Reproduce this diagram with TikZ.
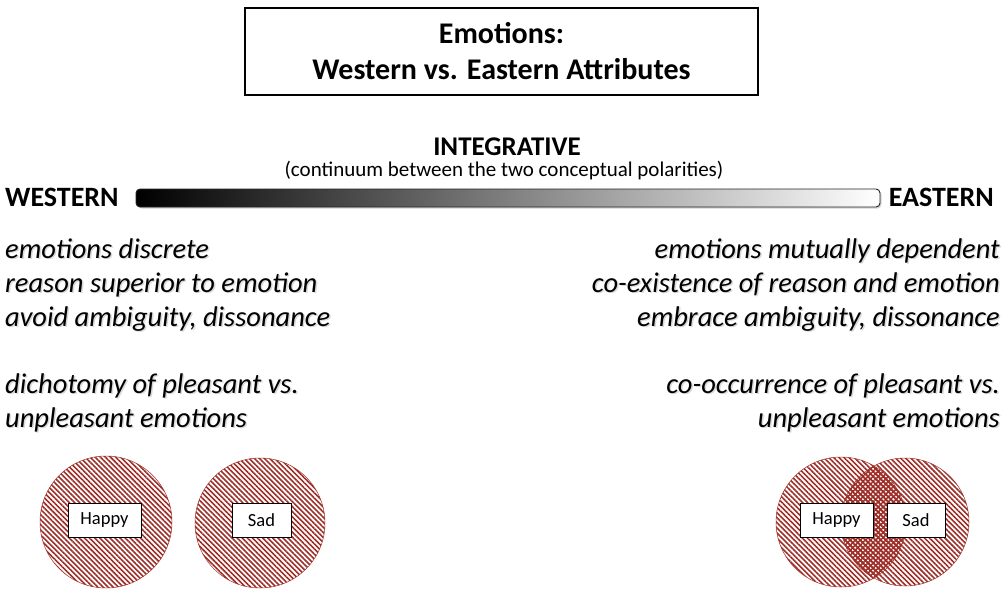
\documentclass[tikz,border=0pt]{standalone}
\usepackage{fontspec}
\setmainfont{Carlito}
\usetikzlibrary{patterns.meta,shadows}

\definecolor{hatch}{RGB}{158,46,40}

\tikzset{
  headline/.style={font=\fontsize{30}{36}\selectfont\bfseries},
  pole/.style={font=\fontsize{28}{32}\selectfont\bfseries, inner sep=0pt},
  attr/.style={font=\fontsize{28.5}{33}\selectfont\itshape, inner sep=0pt},
  attrshade/.style={attr, text=black!50, opacity=0.3},
  feeling/.style={draw, fill=white, line width=1pt, inner sep=0pt,
    font=\fontsize{18.5}{21}\selectfont, minimum height=34pt, minimum width=#1},
  disc/.style={draw=hatch, line width=0.5pt, pattern color=hatch,
    pattern={Lines[angle=-45,distance=3.6pt,line width=1.6pt]}},
}

\begin{document}
\begin{tikzpicture}[x=1pt,y=-1pt]
  \useasboundingbox (0,0) rectangle (1007,591);

  % title
  \node[draw, line width=1.8pt, minimum width=513pt, minimum height=87pt,
        align=center, headline] (title) at (501.5,51.5)
        {Emotions:\\Western vs. Eastern Attributes};

  % continuum bar
  \node[font=\fontsize{27}{30}\selectfont\bfseries, inner sep=0pt, anchor=base] (integ) at (507,155.5) {INTEGRATIVE};
  \node[font=\fontsize{21}{25}\selectfont, inner sep=0pt, anchor=base] (integsub) at (504,177)
        {(continuum between the two conceptual polarities)};
  \shade[left color=black, right color=white, rounded corners=4pt,
         drop shadow={shadow xshift=1.5pt, shadow yshift=-1.5pt, opacity=0.35}]
        (136,189) rectangle (880,207);
  \draw[line width=0.9pt, black!85, rounded corners=4pt] (136,189) rectangle (880,207);
  \node[pole, anchor=west] (west) at (5,197) {WESTERN};
  \node[pole, anchor=east] (east) at (994,197) {EASTERN};

  % attributes, left and right
  \foreach \y/\txt [count=\i] in {258/emotions discrete, 292/reason superior to emotion,
      326/{avoid ambiguity, dissonance}, 393/dichotomy of pleasant vs., 427/unpleasant emotions}{
    \node[attrshade, anchor=base west] (wsh\i) at (6.5,\y+1.8) {\txt};
    \node[attr, anchor=base west] (w\i) at (5,\y) {\txt};}
  \foreach \y/\txt [count=\i] in {258/emotions mutually dependent, 292/co-existence of reason and emotion,
      326/{embrace ambiguity, dissonance}, 393/co-occurrence of pleasant vs., 427/unpleasant emotions}{
    \node[attrshade, anchor=base east] (esh\i) at (1001.5,\y+1.8) {\txt};
    \node[attr, anchor=base east] (e\i) at (1000,\y) {\txt};}

  % separate circles (western)
  \draw[disc] (106,522) circle[radius=66];
  \draw[disc] (260,523) circle[radius=65];
  \node[feeling=73pt] (whappy) at (104.5,520) {Happy};
  \node[feeling=59pt] (wsad) at (261.5,520) {Sad};

  % overlapping circles (eastern)
  \draw[disc] (841,522) circle[radius=65];
  \draw[disc] (905,522) circle[radius=64];
  \begin{scope}
    \clip (841,522) circle[radius=65];
    \fill[pattern color=hatch, pattern={Lines[angle=45,distance=3.6pt,line width=1.6pt]}]
      (905,522) circle[radius=64];
  \end{scope}
  \node[feeling=73pt] (ehappy) at (836.5,520) {Happy};
  \node[feeling=58pt] (esad) at (916,520) {Sad};
\end{tikzpicture}
\end{document}
